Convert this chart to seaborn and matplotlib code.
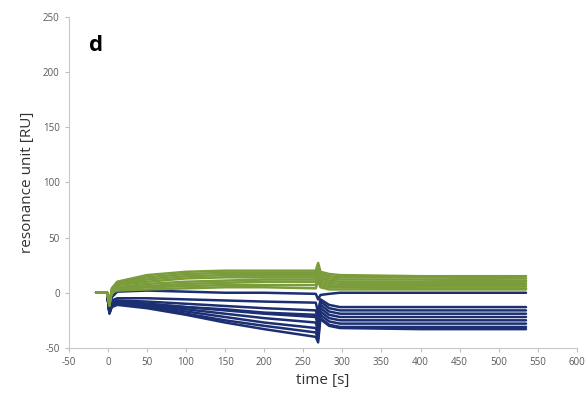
import matplotlib
matplotlib.use("Agg")
import matplotlib.pyplot as plt
import seaborn as sns
import pandas as pd

# tiempos de muestreo [s]
tiempos = [-15, -1, 2, 5, 12, 50, 100, 150, 200, 266, 269, 272, 283, 297, 400, 535]

# curvas verdes (respuesta positiva)
verdes = [
    [0, 0, -12, 4, 10, 16, 19, 20, 20, 20, 27, 19, 17, 16, 15, 15],
    [0, 0, -11, 3, 9, 14, 17, 18, 18, 18, 23, 17, 15, 14, 14, 13],
    [0, 0, -10, 2, 8, 12, 15, 16, 16, 16, 21, 15, 13, 12, 12, 11],
    [0, 0, -10, 2, 7, 10, 13, 14, 14, 14, 19, 13, 11, 10, 10, 10],
    [0, 0, -9, 1, 5, 8, 10, 11, 12, 12, 17, 11, 9, 8, 8, 8],
    [0, 0, -9, 1, 4, 6, 8, 9, 10, 10, 15, 9, 7, 6, 6, 6],
    [0, 0, -8, 0, 3, 5, 6, 7, 7, 7, 13, 7, 5, 5, 4, 4],
    [0, 0, -8, 0, 2, 3, 4, 5, 5, 4, 11, 5, 3, 3, 3, 3],
]

# curvas azules (respuesta negativa)
azules = [
    [0, 0, -16, -4, 1, 2, 1, 0, 0, -1, -6, -2, -1, 0, 0, 0],
    [0, 0, -17, -7, -5, -5, -6, -7, -8, -9, -18, -6, -11, -13, -13, -13],
    [0, 0, -17, -9, -7, -8, -10, -12, -14, -16, -24, -8, -14, -16, -16, -16],
    [0, 0, -18, -10, -8, -10, -13, -16, -19, -22, -30, -11, -17, -19, -19, -19],
    [0, 0, -18, -11, -9, -11, -15, -19, -23, -27, -35, -14, -20, -22, -22, -22],
    [0, 0, -18, -12, -10, -12, -17, -22, -27, -32, -39, -17, -23, -25, -25, -25],
    [0, 0, -18, -12, -10, -13, -19, -25, -30, -36, -42, -20, -26, -28, -28, -28],
    [0, 0, -19, -13, -11, -14, -20, -27, -33, -40, -45, -23, -29, -31, -31, -31],
    [0, 0, -18, -11, -9, -10, -13, -15, -18, -20, -28, -24, -30, -32, -33, -33],
]

# tabla larga para seaborn (azules primero, verdes encima)
filas = []
for i, curva in enumerate(azules):
    for t, v in zip(tiempos, curva):
        filas.append({"time": t, "ru": v, "grupo": "azul", "curva": f"a{i}"})
for i, curva in enumerate(verdes):
    for t, v in zip(tiempos, curva):
        filas.append({"time": t, "ru": v, "grupo": "verde", "curva": f"v{i}"})
df = pd.DataFrame(filas)

sns.set_style("white")
plt.rcParams["font.family"] = ["Open Sans", "DejaVu Sans"]
plt.rcParams["axes.unicode_minus"] = False

fig = plt.figure(figsize=(5.88, 4.05), dpi=100)
ax = fig.add_axes([0.117, 0.141, 0.864, 0.817])

sns.lineplot(data=df, x="time", y="ru", hue="grupo", units="curva",
             estimator=None, sort=False, legend=False,
             hue_order=["azul", "verde"],
             palette={"verde": "#7a9c3a", "azul": "#1b2f72"},
             linewidth=1.8, ax=ax)

# Ejes
ax.set_xlim(-50, 600)
ax.set_ylim(-50, 250)
ax.set_xticks(range(-50, 601, 50))
ax.set_yticks(range(-50, 251, 50))
ax.tick_params(axis="both", labelsize=7, colors="#bfbfbf", labelcolor="#595959",
               direction="out", length=3, width=0.8, left=True, bottom=True)
for lado in ["top", "right"]:
    ax.spines[lado].set_visible(False)
for lado in ["left", "bottom"]:
    ax.spines[lado].set_color("#c8c8c8")
    ax.spines[lado].set_linewidth(0.8)

# Etiquetas
ax.set_xlabel("time [s]", fontsize=11, color="#333333", labelpad=4)
ax.set_ylabel("resonance unit [RU]", fontsize=11, color="#333333", labelpad=6)
ax.text(0.04, 0.915, "d", transform=ax.transAxes, fontsize=16,
        fontweight="bold", va="center", ha="left", color="black")

plt.savefig("out.png", dpi=100)
plt.close()
